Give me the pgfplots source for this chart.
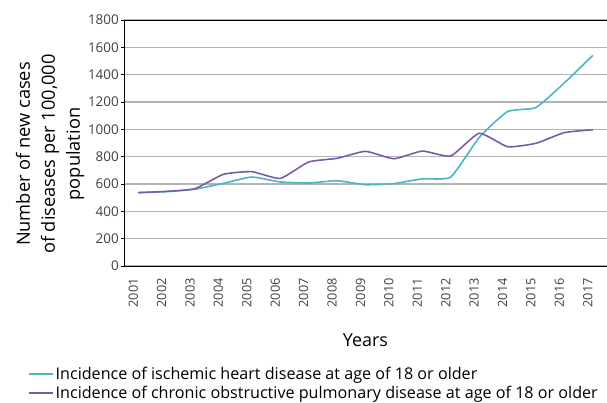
\documentclass[border=0pt]{standalone}
\usepackage{pgfplots}
\pgfplotsset{compat=1.18}
\usepackage{fontspec}
\setmainfont{Open Sans}
\definecolor{teal1}{HTML}{4BB4C8}
\definecolor{purp1}{HTML}{7A5CA6}
\definecolor{gridg}{HTML}{B4B4B4}
\definecolor{tickg}{HTML}{404040}
\begin{document}
\begin{tikzpicture}
\useasboundingbox (0,0) rectangle (607bp,403bp);
\begin{axis}[
  at={(124bp,137bp)}, anchor=south west,
  width=483bp, height=246bp, scale only axis,
  xmin=2000.5, xmax=2017.5, ymin=0, ymax=1800,
  xtick={2001,...,2017}, ytick={0,200,...,1800},
  /pgf/number format/assume math mode=true,
  /pgf/number format/set thousands separator={},
  x tick label style={rotate=90, anchor=east, font=\fontsize{12.8}{13}\selectfont, text=tickg, inner sep=0bp, yshift=5bp, xshift=-9bp},
  y tick label style={font=\fontsize{13.5}{14}\selectfont, text=tickg, inner sep=2bp},
  axis x line=box, axis y line=left, axis line style={-, black, line width=0.9bp},
  major tick length=3bp,
  xtick style={draw=none},
  ytick style={black, line width=0.6bp},
  tick align=outside,
  ymajorgrids, grid style={gridg, line width=1.1bp},
  xlabel={Years}, xlabel style={font=\fontsize{18}{20}\selectfont, at={(axis description cs:0.5,0)}, yshift=-64bp, anchor=north},
  ylabel={Number of new cases\\of diseases per 100,000\\population},
  ylabel style={font=\fontsize{18.3}{25}\selectfont, align=center, at={(axis description cs:-0.153,0.455)}, anchor=center},
  legend style={at={(-0.199,-0.403)}, anchor=north west, draw=none, fill=none,
    font=\fontsize{16.2}{17}\selectfont, row sep=1bp, inner sep=0pt,
    /tikz/every even column/.append style={column sep=4bp}},
  legend cell align=left,
  legend image code/.code={\draw[#1, sharp plot] (0bp,0bp) -- (24bp,0bp);},
]
\addplot[teal1, line width=1.6bp, smooth, tension=0.3] coordinates {
(2001,537) (2002,544) (2003,562) (2004,605) (2005,651) (2006,615) (2007,607) (2008,624) (2009,595) (2010,603) (2011,638) (2012,651) (2013,940) (2014,1130) (2015,1160) (2016,1340) (2017,1541)};
\addlegendentry{Incidence of ischemic heart disease at age of 18 or older}
\addplot[purp1, line width=1.6bp, smooth, tension=0.3] coordinates {
(2001,537) (2002,546) (2003,566) (2004,671) (2005,690) (2006,641) (2007,761) (2008,788) (2009,839) (2010,785) (2011,841) (2012,805) (2013,971) (2014,873) (2015,898) (2016,976) (2017,997)};
\addlegendentry{Incidence of chronic obstructive pulmonary disease at age of 18 or older}
\end{axis}
\end{tikzpicture}
\end{document}
